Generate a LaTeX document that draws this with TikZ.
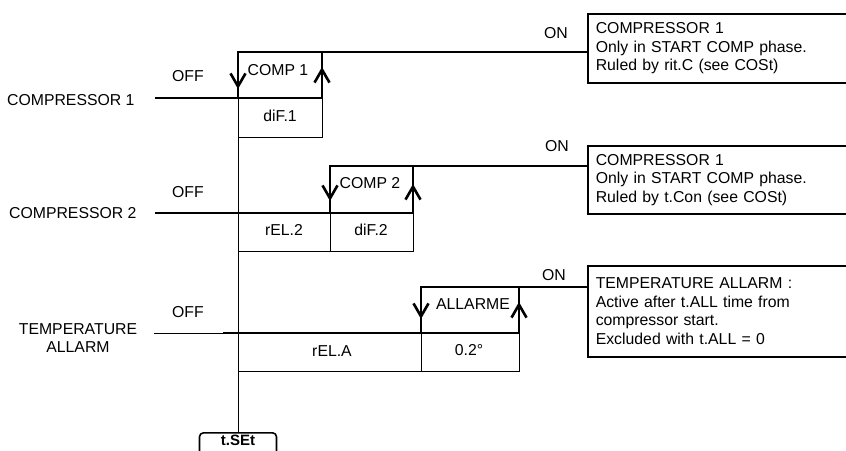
\documentclass[tikz,border=0pt]{standalone}
\usepackage{fontspec}
\setmainfont{Liberation Sans}
\usetikzlibrary{arrows.meta, positioning}
\definecolor{InkBlack}{HTML}{000000}

\begin{document}
\begin{tikzpicture}[x=1pt, y=-1pt, font=\fontsize{15.8}{18.6}\selectfont, color=InkBlack,
    sig/.style={line width=2.6pt},
    guide/.style={line width=0.8pt},
    flipmark/.style={line width=2.6pt, -{Straight Barb[length=13pt, width=15pt]}},
    noteframe/.style={draw, line width=1.6pt, anchor=north west, align=left, text width=262pt, inner xsep=8pt, inner ysep=0pt}]
    \useasboundingbox (0,0) rectangle (846,450);

    \node[draw, rounded corners=4pt, line width=1.6pt, anchor=north, minimum width=77pt, text height=11pt, text depth=12pt, inner sep=2pt, font=\fontsize{15}{18}\selectfont\bfseries] (tset) at (238,432) {t.SEt};

    \node[anchor=east] (lab1) at (138,100) {COMPRESSOR 1};
    \node (off1) at (188,76) {OFF};
    \node (on1) at (556,33) {ON};
    \node[noteframe, minimum height=69pt] (note1) at (587,13) {COMPRESSOR 1\\Only in START COMP phase.\\Ruled by rit.C (see COSt)};
    \coordinate (c1lo) at (238,98);
    \coordinate (c1hi) at (238,52);
    \draw[sig] (155,98) -- (322,98) -- (322,52);
    \draw[sig] (c1lo) -- (c1hi) -- (note1.west |- c1hi);
    \draw[guide] (c1lo) -- (tset.north);
    \draw[guide] (322,98) -- (322,137) -- (238,137);
    \draw[flipmark] (238,72) -- (238,89);
    \draw[flipmark] (322,87) -- (322,67);
    \node (comp1) at (278,70) {COMP 1};
    \node (dif1) at (280,116) {diF.1};

    \node[anchor=east] (lab2) at (140,213) {COMPRESSOR 2};
    \node (off2) at (188,192) {OFF};
    \node (on2) at (557,146) {ON};
    \node[noteframe, minimum height=68pt] (note2) at (587,145) {COMPRESSOR 1\\Only in START COMP phase.\\Ruled by t.Con (see COSt)};
    \coordinate (c2lo) at (330,213);
    \coordinate (c2hi) at (330,166);
    \draw[sig] (155,213) -- (413,213) -- (413,166);
    \draw[sig] (c2lo) -- (c2hi) -- (note2.west |- c2hi);
    \draw[guide] (c2lo) -- (330,251);
    \draw[guide] (413,213) -- (413,251) -- (238,251);
    \draw[flipmark] (330,184) -- (330,201);
    \draw[flipmark] (413,204) -- (413,184);
    \node (comp2) at (370,183) {COMP 2};
    \node (rel2) at (284,230) {rEL.2};
    \node (dif2) at (371,230) {diF.2};

    \node[align=center, font=\fontsize{15.8}{17.5}\selectfont] (lab3) at (78,338) {TEMPERATURE\\ALLARM};
    \node (off3) at (188,312) {OFF};
    \node (on3) at (554,275) {ON};
    \node[noteframe, minimum height=91pt] (note3) at (587,265) {TEMPERATURE ALLARM :\\Active after t.ALL time from\\compressor start.\\Excluded with t.ALL = 0};
    \coordinate (c3lo) at (421,333);
    \coordinate (c3hi) at (421,287);
    \draw[guide] (154,333) -- (223,333);
    \draw[sig] (223,333) -- (519,333) -- (519,287);
    \draw[sig] (c3lo) -- (c3hi) -- (note3.west |- c3hi);
    \draw[guide] (c3lo) -- (421,371);
    \draw[guide] (519,333) -- (519,371) -- (238,371);
    \draw[flipmark] (421,302) -- (421,319);
    \draw[flipmark] (519,321) -- (519,302);
    \node (alarm) at (473,304) {ALLARME};
    \node (rela) at (332,351) {rEL.A};
    \node (band) at (469,350) {0.2°};
\end{tikzpicture}
\end{document}
